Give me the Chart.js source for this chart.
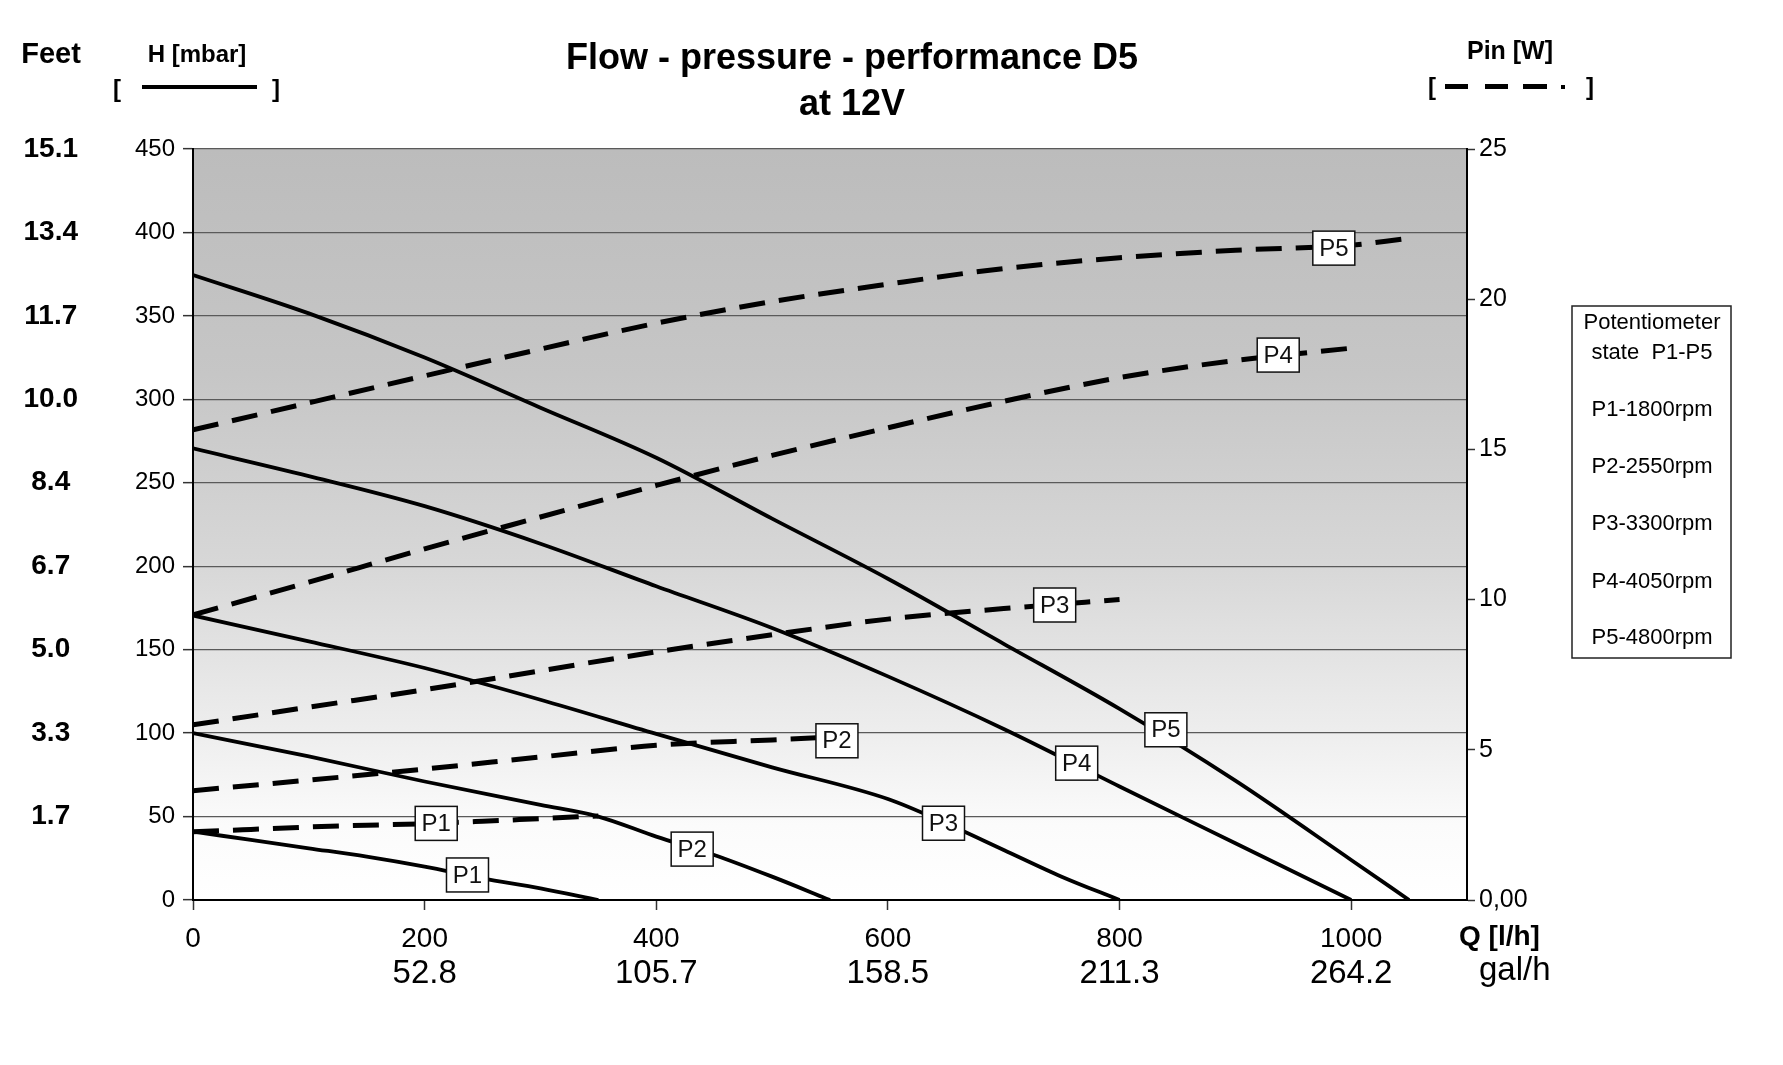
<!DOCTYPE html>
<html>
<head>
<meta charset="utf-8">
<title>Flow - pressure - performance D5</title>
<script src="https://cdn.jsdelivr.net/npm/chart.js@4.4.0/dist/chart.umd.min.js"></script>
<style>
  html, body { margin: 0; padding: 0; background: #fff; }
  #wrap { width: 1783px; height: 1065px; }
</style>
</head>
<body>
<div id="wrap"><canvas id="pumpChart" width="1783" height="1065"></canvas></div>
<script>
// head H [mbar] per potentiometer state
const h1Q = [0, 50, 100, 150, 200, 250, 300, 350];
const h1 = [41, 36, 31, 26, 20, 13, 7, 0];
const h2Q = [0, 100, 200, 300, 350, 400, 450, 500, 550];
const h2 = [100, 86, 71, 57, 50, 38, 27, 14, 0];
const h3Q = [0, 100, 200, 300, 400, 500, 600, 650, 700, 750, 800];
const h3 = [170.5, 155, 139, 120, 99.5, 79.5, 60.5, 46, 30, 14, 0];
const h4Q = [0, 100, 200, 300, 400, 500, 600, 700, 800, 900, 1000];
const h4 = [270.6, 254, 236, 213.5, 188, 163, 134, 102.5, 68, 34, 0];
const h5Q = [0, 100, 200, 300, 400, 500, 600, 700, 800, 900, 1000, 1050];
const h5 = [374.5, 351.5, 325, 295, 265, 228.5, 192.5, 153.5, 114.5, 71.5, 24, 0];

// input power Pin [W]
const p1Q = [0, 50, 100, 150, 200, 250, 300, 350];
const p1 = [2.27, 2.35, 2.43, 2.49, 2.54, 2.62, 2.71, 2.8];
const p2Q = [0, 100, 200, 300, 400, 500, 550];
const p2 = [3.64, 3.99, 4.36, 4.76, 5.15, 5.33, 5.42];
const p3Q = [0, 100, 200, 300, 400, 500, 600, 700, 800];
const p3 = [5.83, 6.42, 7.0, 7.63, 8.26, 8.83, 9.35, 9.7, 10.0];
const p4Q = [0, 100, 200, 300, 400, 500, 600, 700, 800, 900, 1000];
const p4 = [9.49, 10.58, 11.69, 12.75, 13.8, 14.8, 15.72, 16.6, 17.39, 17.96, 18.37];
const p5Q = [0, 100, 200, 300, 400, 500, 600, 700, 800, 900, 1000, 1045];
const p5 = [15.65, 16.55, 17.45, 18.34, 19.2, 19.92, 20.5, 21.02, 21.38, 21.63, 21.8, 22.0];

const states = ['P1', 'P2', 'P3', 'P4', 'P5'];
// where the P-tags sit on each curve: [Q, value]
const headTags = [[237, 15], [431, 30.5], [648, 46], [763, 82], [840, 102]];
const powerTags = [[210, 2.55], [556, 5.3], [744, 9.82], [937, 18.14], [985, 21.7]];

const qTicks = [0, 200, 400, 600, 800, 1000];
const galLabels = ['', '52.8', '105.7', '158.5', '211.3', '264.2'];
const hTicks = [0, 50, 100, 150, 200, 250, 300, 350, 400, 450];
const feetLabels = ['', '1.7', '3.3', '5.0', '6.7', '8.4', '10.0', '11.7', '13.4', '15.1'];
const legendLines = ['Potentiometer', 'state  P1-P5', 'P1-1800rpm', 'P2-2550rpm', 'P3-3300rpm', 'P4-4050rpm', 'P5-4800rpm'];

const SANS = "'Liberation Sans', Arial, sans-serif";
const NARROW = "'Liberation Sans Narrow', 'Arial Narrow', 'Liberation Sans', sans-serif";

function pts(qs, vs) {
    return qs.map((q, i) => ({ x: q, y: vs[i] }));
}

const headSets = [[h1Q, h1], [h2Q, h2], [h3Q, h3], [h4Q, h4], [h5Q, h5]].map((s, i) => ({
    label: 'H ' + states[i],
    data: pts(s[0], s[1]),
    yAxisID: 'y',
    borderColor: '#000',
    borderWidth: 3.8,
    pointRadius: 0,
    cubicInterpolationMode: 'monotone',
    fill: false
}));

const powerSets = [[p1Q, p1], [p2Q, p2], [p3Q, p3], [p4Q, p4], [p5Q, p5]].map((s, i) => ({
    label: 'Pin ' + states[i],
    data: pts(s[0], s[1]),
    yAxisID: 'y2',
    borderColor: '#000',
    borderWidth: 5,
    borderDash: [26, 14],
    borderCapStyle: 'butt',
    pointRadius: 0,
    cubicInterpolationMode: 'monotone',
    fill: false
}));

function tagBox(ctx, x, y, text) {
    const w = 42, h = 34;
    ctx.fillStyle = '#fff';
    ctx.fillRect(x - w / 2, y - h / 2, w, h);
    ctx.strokeStyle = '#111';
    ctx.lineWidth = 1.5;
    ctx.strokeRect(x - w / 2, y - h / 2, w, h);
    ctx.fillStyle = '#111';
    ctx.font = '24px ' + SANS;
    ctx.textAlign = 'center';
    ctx.textBaseline = 'middle';
    ctx.fillText(text, x, y + 1);
}

const decor = {
    id: 'decor',
    beforeDraw(chart) {
        const { ctx, chartArea: a } = chart;
        ctx.save();
        ctx.fillStyle = '#fff';
        ctx.fillRect(0, 0, chart.width, chart.height);
        const g = ctx.createLinearGradient(0, a.top, 0, a.bottom);
        g.addColorStop(0, '#bcbcbc');
        g.addColorStop(0.3, '#c6c6c6');
        g.addColorStop(0.55, '#d7d7d7');
        g.addColorStop(0.78, '#eeeeee');
        g.addColorStop(0.9, '#fbfbfb');
        g.addColorStop(1, '#ffffff');
        ctx.fillStyle = g;
        ctx.fillRect(a.left, a.top, a.right - a.left, a.bottom - a.top);
        ctx.restore();
    },
    afterDatasetsDraw(chart) {
        const { ctx, scales } = chart;
        ctx.save();
        headTags.forEach((t, i) => {
            tagBox(ctx, scales.x.getPixelForValue(t[0]), scales.y.getPixelForValue(t[1]), states[i]);
        });
        powerTags.forEach((t, i) => {
            tagBox(ctx, scales.x.getPixelForValue(t[0]), scales.y2.getPixelForValue(t[1]), states[i]);
        });
        ctx.restore();
    },
    afterDraw(chart) {
        const { ctx } = chart;
        ctx.save();
        ctx.fillStyle = '#000';
        ctx.textBaseline = 'middle';
        ctx.textAlign = 'center';

        // title
        ctx.font = 'bold 36px ' + SANS;
        ctx.fillText('Flow - pressure - performance D5', 852, 59);
        ctx.fillText('at 12V', 852, 105);

        // left header
        ctx.font = 'bold 29px ' + SANS;
        ctx.fillText('Feet', 51, 55);
        ctx.font = 'bold 24px ' + SANS;
        ctx.fillText('H [mbar]', 197, 55);
        ctx.fillText('[', 117, 90);
        ctx.fillText(']', 276, 90);
        ctx.fillRect(142, 85, 115, 4);

        // right header
        ctx.font = 'bold 25px ' + SANS;
        ctx.fillText('Pin [W]', 1510, 52);
        ctx.font = 'bold 24px ' + SANS;
        ctx.fillText('[', 1432, 88);
        ctx.fillText(']', 1590, 88);
        ctx.fillRect(1445, 84, 23, 5);
        ctx.fillRect(1485, 84, 23, 5);
        ctx.fillRect(1523, 84, 24, 5);
        ctx.fillRect(1561, 85, 4, 4);

        // axis captions right of the flow axis
        ctx.textAlign = 'left';
        ctx.font = 'bold 28px ' + NARROW;
        ctx.fillText('Q [l/h]', 1459, 937);
        ctx.font = '33px ' + NARROW;
        ctx.fillText('gal/h', 1479, 971);

        // potentiometer box
        ctx.strokeStyle = '#222';
        ctx.lineWidth = 1.5;
        ctx.strokeRect(1572, 306, 159, 352);
        ctx.textAlign = 'center';
        ctx.font = '22px ' + SANS;
        const ys = [323, 353, 410, 467, 524, 582, 638];
        legendLines.forEach((t, i) => ctx.fillText(t, 1652, ys[i]));
        ctx.restore();
    }
};

new Chart(document.getElementById('pumpChart').getContext('2d'), {
    type: 'line',
    data: { datasets: headSets.concat(powerSets) },
    options: {
        responsive: false,
        animation: false,
        events: [],
        layout: { padding: { top: 149, right: 216, bottom: 70, left: 0 } },
        plugins: {
            legend: { display: false },
            tooltip: { enabled: false },
            title: { display: false }
        },
        scales: {
            x: {
                type: 'linear',
                position: 'bottom',
                weight: 0,
                min: 0,
                max: 1100,
                afterBuildTicks: s => { s.ticks = qTicks.map(v => ({ value: v })); },
                afterFit: s => { s.height = 53; },
                ticks: {
                    color: '#000',
                    padding: 12,
                    maxRotation: 0,
                    font: { family: NARROW, size: 28 },
                    callback: v => String(v)
                },
                grid: { drawOnChartArea: false, drawTicks: true, tickLength: 10, tickColor: '#333', tickWidth: 1.5 },
                border: { display: true, color: '#000', width: 2 }
            },
            x2: {
                type: 'linear',
                position: 'bottom',
                weight: 1,
                min: 0,
                max: 1100,
                afterBuildTicks: s => { s.ticks = qTicks.map(v => ({ value: v })); },
                afterFit: s => { s.height = 42; },
                ticks: {
                    color: '#000',
                    padding: 0,
                    maxRotation: 0,
                    font: { family: NARROW, size: 33, lineHeight: 0.8 },
                    callback: (v, i) => galLabels[i]
                },
                grid: { display: false },
                border: { display: false }
            },
            y: {
                type: 'linear',
                position: 'left',
                weight: 0,
                min: 0,
                max: 450,
                afterBuildTicks: s => { s.ticks = hTicks.map(v => ({ value: v })); },
                afterFit: s => { s.width = 81; },
                ticks: { color: '#000', padding: 8, font: { family: SANS, size: 24 } },
                grid: { color: '#5a5a5a', lineWidth: 1.3, tickLength: 10, tickColor: '#333', tickWidth: 1.5 },
                border: { display: true, color: '#000', width: 2 }
            },
            feet: {
                type: 'linear',
                position: 'left',
                weight: 1,
                min: 0,
                max: 450,
                afterBuildTicks: s => { s.ticks = hTicks.map(v => ({ value: v })); },
                afterFit: s => { s.width = 112; },
                ticks: {
                    color: '#000',
                    padding: 34,
                    crossAlign: 'center',
                    font: { family: SANS, size: 28, weight: 'bold' },
                    callback: (v, i) => feetLabels[i]
                },
                grid: { display: false, drawTicks: false },
                border: { display: false }
            },
            y2: {
                type: 'linear',
                position: 'right',
                min: 0,
                max: 25,
                afterBuildTicks: s => { s.ticks = [0, 5, 10, 15, 20, 25].map(v => ({ value: v })); },
                afterFit: s => { s.width = 100; },
                ticks: {
                    color: '#000',
                    padding: 4,
                    font: { family: SANS, size: 25 },
                    callback: v => (v === 0 ? '0,00' : String(v))
                },
                grid: { drawOnChartArea: false, tickLength: 8, tickColor: '#333', tickWidth: 1.5 },
                border: { display: true, color: '#000', width: 2 }
            }
        }
    },
    plugins: [decor]
});
</script>
</body>
</html>
